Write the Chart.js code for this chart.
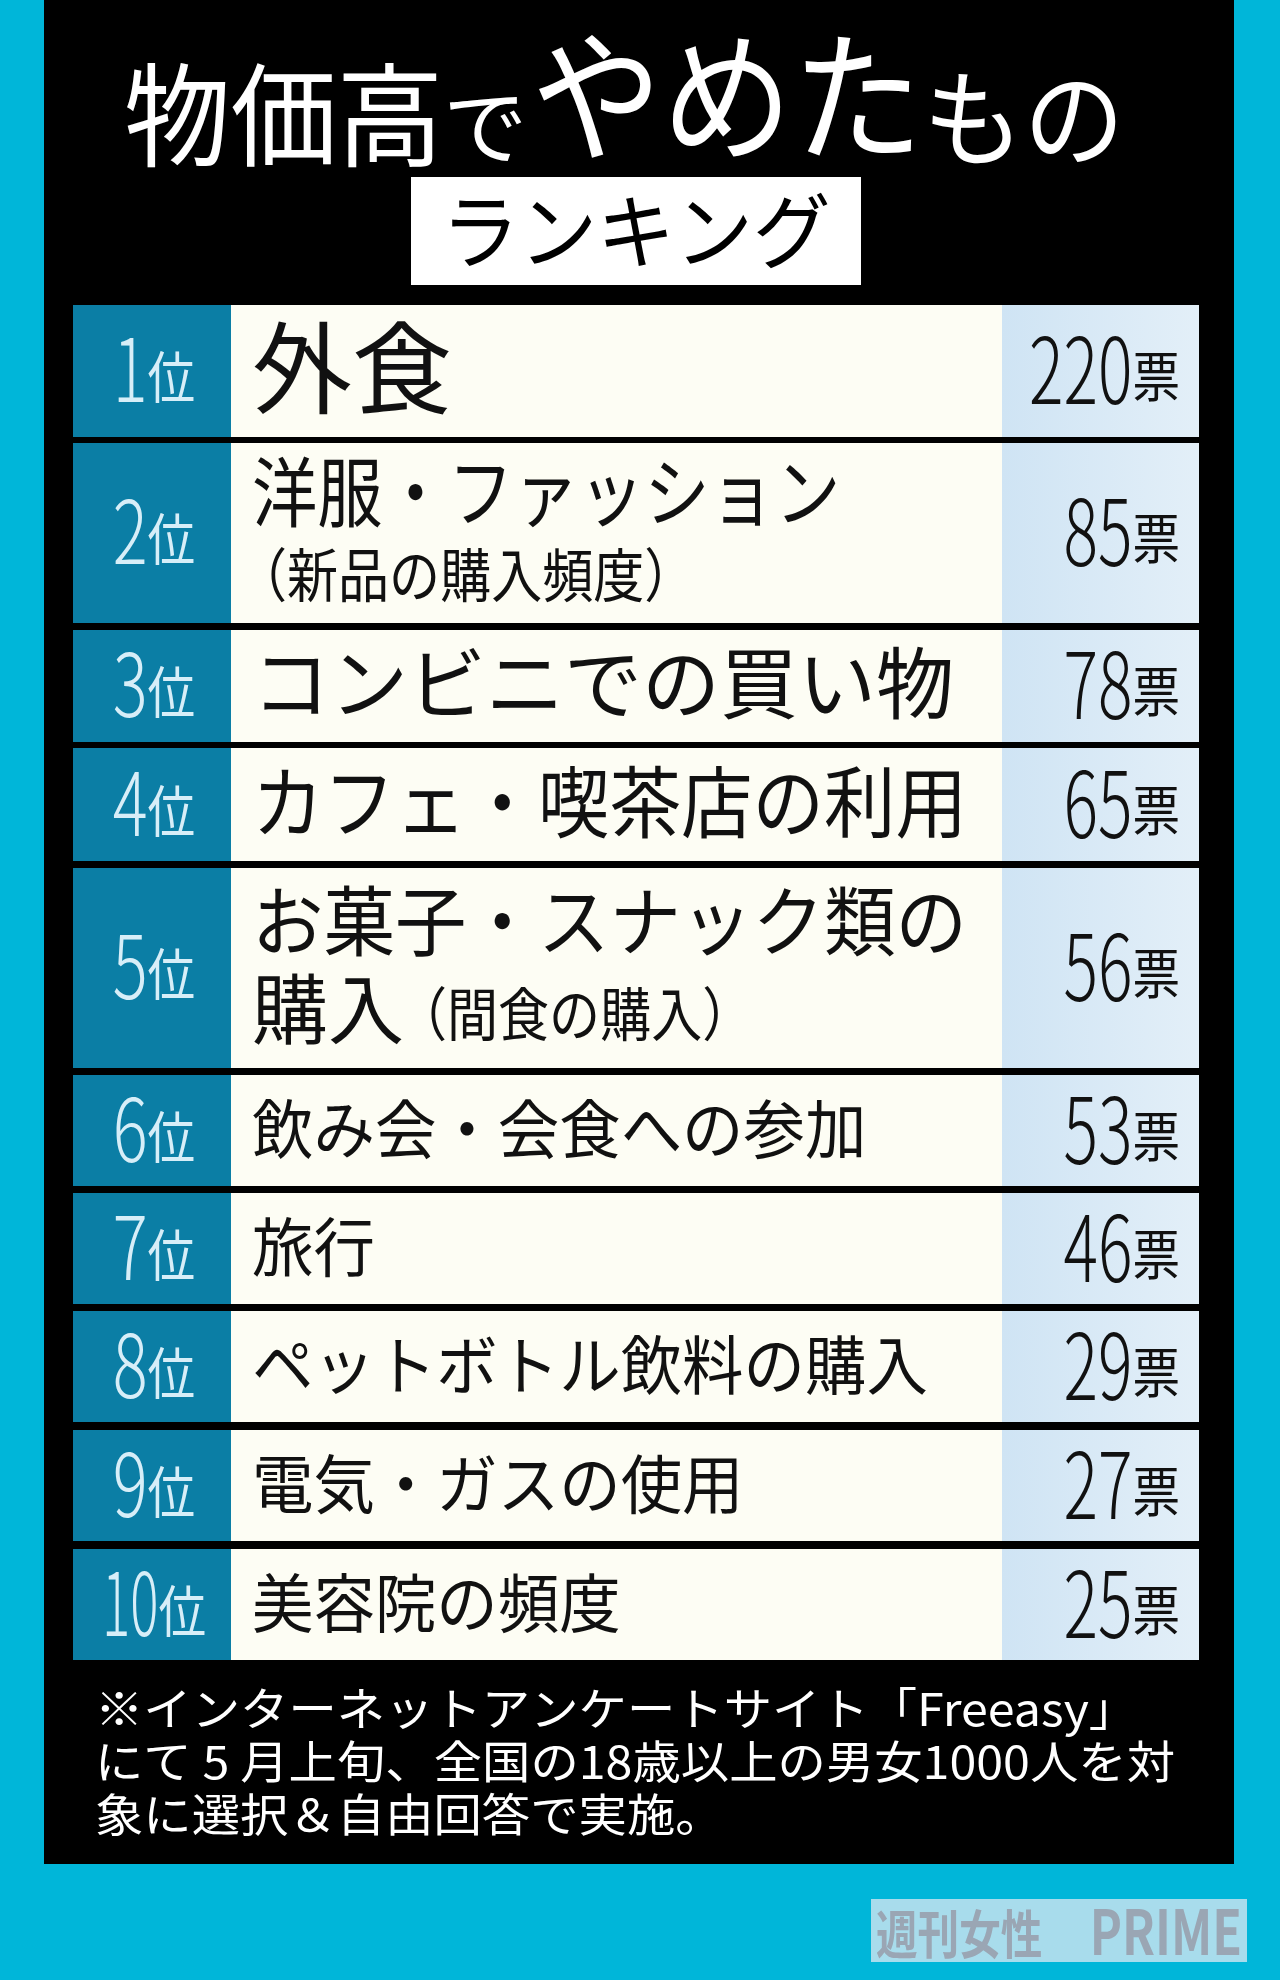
<!DOCTYPE html>
<html lang="ja">
<head>
<meta charset="utf-8">
<script src="https://cdn.jsdelivr.net/npm/chart.js@4/dist/chart.umd.min.js"></script>
<style>
  html, body { margin: 0; padding: 0; background: #00b6d9; }
  #wrap { width: 1280px; height: 1980px; position: relative; }
  canvas { display: block; }
</style>
</head>
<body>
<div id="wrap"><canvas id="rank" width="1280" height="1980"></canvas></div>
<script>
// データ
const ranks = ['1', '2', '3', '4', '5', '6', '7', '8', '9', '10'];
const items = [
  ['外食'],
  ['洋服・ファッション', '（新品の購入頻度）'],
  ['コンビニでの買い物'],
  ['カフェ・喫茶店の利用'],
  ['お菓子・スナック類の', '購入', '（間食の購入）'],
  ['飲み会・会食への参加'],
  ['旅行'],
  ['ペットボトル飲料の購入'],
  ['電気・ガスの使用'],
  ['美容院の頻度']
];
const votes = [220, 85, 78, 65, 56, 53, 46, 29, 27, 25];
const notes = [
  '※インターネットアンケートサイト「Freeasy」',
  'にて 5 月上旬、全国の18歳以上の男女1000人を対',
  '象に選択＆自由回答で実施。'
];

const FONT = '"Noto Sans CJK JP", "Noto Sans", sans-serif';
// 行のレイアウト（上端・下端）
const rowBox = [
  [305, 437], [443, 623], [630, 742], [748, 861], [868, 1068],
  [1075, 1186], [1193, 1304], [1311, 1422], [1430, 1541], [1549, 1660]
];
const tbl = { left: 73, rankRight: 231, valLeft: 1002, right: 1199 };

// 横長を詰めて描く
function drawText(ctx, text, x, y, font, color, opts = {}) {
  const sx = opts.sx || 1;
  ctx.save();
  ctx.font = font;
  ctx.fillStyle = color;
  ctx.textBaseline = 'alphabetic';
  let w = ctx.measureText(text).width * sx;
  let k = sx;
  if (opts.maxWidth && w > opts.maxWidth) { k = k * opts.maxWidth / w; w = opts.maxWidth; }
  let left = x;
  if (opts.align === 'right') left = x - w;
  if (opts.align === 'center') left = x - w / 2;
  ctx.translate(left, y);
  ctx.scale(k, 1);
  ctx.textAlign = 'left';
  ctx.fillText(text, 0, 0);
  ctx.restore();
  return w;
}

const tablePlugin = {
  id: 'rankTable',
  beforeDraw(chart) {
    const { ctx } = chart;
    ctx.save();
    ctx.fillStyle = '#00b6d9';
    ctx.fillRect(0, 0, 1280, 1980);
    ctx.fillStyle = '#000';
    ctx.fillRect(44, 0, 1190, 1864);

    // タイトル
    let x = 124;
    x += drawText(ctx, '物価高', x, 158, `400 112px ${FONT}`, '#fff', { sx: 0.95 });
    x += drawText(ctx, 'で', x, 158, `400 84px ${FONT}`, '#fff');
    x += 4;
    x += drawText(ctx, 'やめた', x, 150, `400 142px ${FONT}`, '#fff', { sx: 0.92 });
    drawText(ctx, 'もの', x, 158, `400 106px ${FONT}`, '#fff', { sx: 0.95 });

    ctx.fillStyle = '#fff';
    ctx.fillRect(411, 177, 450, 108);
    drawText(ctx, 'ランキング', 636, 262, `400 82px ${FONT}`, '#000', { align: 'center', sx: 0.95 });
    ctx.restore();
  },
  afterDraw(chart) {
    const { ctx } = chart;
    ctx.save();
    ranks.forEach((r, i) => {
      const [top, bottom] = rowBox[i];
      const h = bottom - top;
      const mid = (top + bottom) / 2;

      ctx.fillStyle = '#0b7ea5';
      ctx.fillRect(tbl.left, top, tbl.rankRight - tbl.left, h);
      ctx.fillStyle = '#fdfdf4';
      ctx.fillRect(tbl.rankRight, top, tbl.valLeft - tbl.rankRight, h);
      const g = ctx.createLinearGradient(tbl.valLeft, 0, tbl.right, 0);
      g.addColorStop(0, '#cfe4f4');
      g.addColorStop(1, '#e3eff8');
      ctx.fillStyle = g;
      ctx.fillRect(tbl.valLeft, top, tbl.right - tbl.valLeft, h);

      // 順位
      const rankX = (tbl.left + tbl.rankRight) / 2 + 2;
      const dsx = i === 9 ? 0.6 : 0.74;
      ctx.font = `300 88px ${FONT}`;
      const dw = ctx.measureText(r).width * dsx;
      ctx.font = `400 56px ${FONT}`;
      const kw = ctx.measureText('位').width * 0.85;
      const rx = Math.max(tbl.left + 10, rankX - (dw + kw) / 2);
      drawText(ctx, r, rx, mid + 31, `300 88px ${FONT}`, '#d7eef8', { sx: dsx });
      drawText(ctx, '位', rx + dw, mid + 27, `400 56px ${FONT}`, '#d7eef8', { sx: 0.85 });

      // 項目
      const lx = 252;
      const it = items[i];
      if (i === 0) {
        drawText(ctx, it[0], lx, mid + 35, `400 100px ${FONT}`, '#111');
      } else if (i === 1) {
        drawText(ctx, it[0], lx, mid - 12, `400 76px ${FONT}`, '#111', { sx: 0.86 });
        drawText(ctx, it[1], lx - 16, mid + 64, `400 58px ${FONT}`, '#111', { sx: 0.88 });
      } else if (i === 4) {
        drawText(ctx, it[0], lx, mid - 18, `400 76px ${FONT}`, '#111', { maxWidth: 715 });
        const w = drawText(ctx, it[1], lx, mid + 70, `400 76px ${FONT}`, '#111');
        drawText(ctx, it[2], lx + w - 8, mid + 68, `400 58px ${FONT}`, '#111', { sx: 0.88 });
      } else if (i <= 3) {
        drawText(ctx, it[0], lx, mid + 27, `400 78px ${FONT}`, '#111', { maxWidth: 715 });
      } else {
        drawText(ctx, it[0], lx, mid + 22, `400 64px ${FONT}`, '#111', { sx: 0.96 });
      }

      // 票数
      const v = chart.data.datasets[0].data[i];
      const vw = drawText(ctx, '票', 1180, mid + 26, `400 54px ${FONT}`, '#111', { align: 'right', sx: 0.88 });
      drawText(ctx, String(v), 1180 - vw, mid + 33, `300 92px ${FONT}`, '#111', { align: 'right', sx: 0.7 });
    });

    // 注記
    ctx.font = `400 45px ${FONT}`;
    const nsx = 1080 / ctx.measureText(notes[1]).width;
    notes.forEach((t, k) => {
      drawText(ctx, t, 95, 1726 + k * 53, `400 45px ${FONT}`, '#fff', { sx: nsx });
    });

    // ロゴ
    ctx.fillStyle = 'rgba(210,230,240,0.8)';
    ctx.fillRect(871, 1899, 376, 63);
    drawText(ctx, '週刊女性', 876, 1954, `700 52px ${FONT}`, '#9aa6b4', { sx: 0.8 });
    drawText(ctx, 'PRIME', 1242, 1955, `700 62px ${FONT}`, '#9aa6b4', { align: 'right', sx: 0.78 });
    ctx.restore();
  }
};

new Chart(document.getElementById('rank').getContext('2d'), {
  type: 'bar',
  data: {
    labels: ranks.map(r => r + '位'),
    datasets: [{ label: '票', data: votes, backgroundColor: 'rgba(0,0,0,0)', borderWidth: 0 }]
  },
  options: {
    indexAxis: 'y',
    responsive: false,
    animation: false,
    devicePixelRatio: 1,
    layout: { padding: { top: 305, bottom: 320, left: 73, right: 81 } },
    scales: {
      x: { display: false, min: 0, max: 240 },
      y: { display: false }
    },
    plugins: { legend: { display: false }, tooltip: { enabled: false } }
  },
  plugins: [tablePlugin]
});
</script>
</body>
</html>
